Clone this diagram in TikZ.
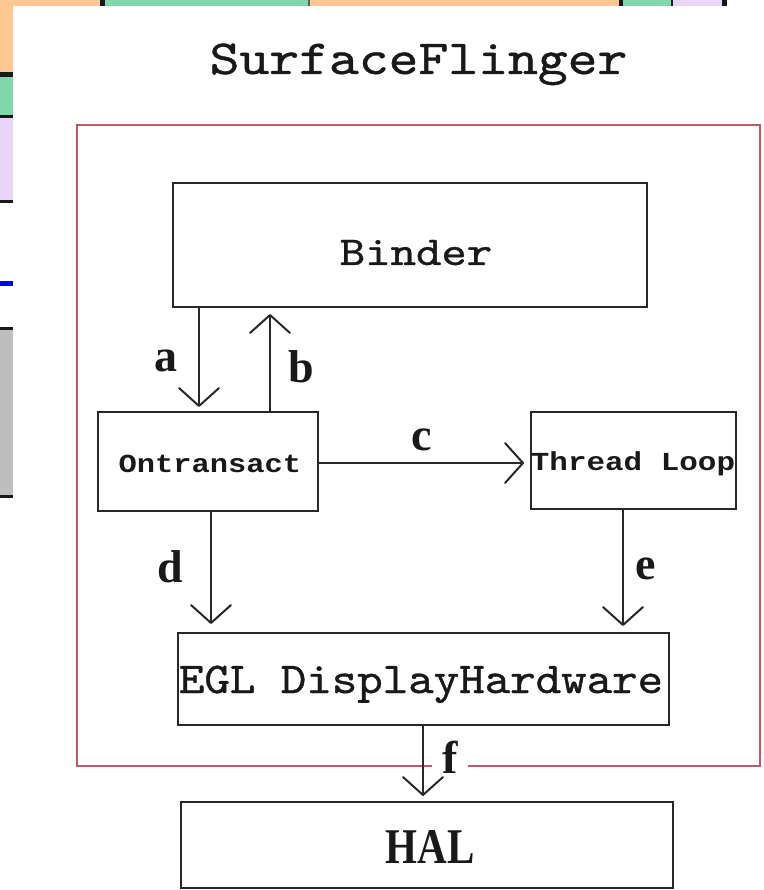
\documentclass[tikz,border=0pt]{standalone}
\usepackage{fontspec}
\usepackage{graphicx}
\usetikzlibrary{arrows.meta,calc}
\newfontfamily\serifb{Liberation Serif}
\newfontfamily\monob{Liberation Mono}
\newfontfamily\monoreg{lmmono10-regular.otf}[FakeBold=0.8]
\definecolor{cOrange}{RGB}{255,200,146}
\definecolor{cGreen}{RGB}{128,216,170}
\definecolor{cLav}{RGB}{232,212,246}
\definecolor{cGrey}{RGB}{190,190,190}
\definecolor{cLine}{RGB}{40,40,40}
\definecolor{cRed}{RGB}{188,90,104}
\definecolor{cDark}{RGB}{25,25,25}
\begin{document}
\begin{tikzpicture}[x=1pt,y=-1pt,
  box/.style={draw=cLine, line width=2pt, inner sep=0pt},
  txt/.style={anchor=base, inner sep=0pt, text=cDark},
  arr/.style={draw=cLine, line width=2pt, -{Straight Barb[length=18pt,width=40pt,round]}},
  lbl/.style={font=\serifb\bfseries\fontsize{46}{46}\selectfont, inner sep=0pt, text=cDark}
]
\useasboundingbox (0,0) rectangle (763,890);
\fill[white] (0,0) rectangle (763,890);
% background table cells
\fill[cOrange] (0,0) rectangle (100,6);
\fill[cDark] (100,0) rectangle (105,6);
\fill[cGreen] (105,0) rectangle (308,6);
\fill[cDark!70] (308,0) rectangle (310,6);
\fill[cOrange] (310,0) rectangle (619,6);
\fill[cDark] (619,0) rectangle (623,6);
\fill[cGreen] (623,0) rectangle (671,6);
\fill[cDark] (671,0) rectangle (673,6);
\fill[cLav] (673,0) rectangle (722,6);
\fill[cDark] (722,0) rectangle (727,6);
\fill[cOrange] (0,0) rectangle (13,72);
\fill[cDark] (0,72) rectangle (13,77);
\fill[cGreen] (0,77) rectangle (13,115);
\fill[cDark] (0,115) rectangle (13,118);
\fill[cLav] (0,118) rectangle (13,200);
\fill[cDark] (0,200) rectangle (13,203);
\fill[blue] (0,281) rectangle (13,286);
\fill[cDark] (0,327) rectangle (13,330);
\fill[cGrey] (0,330) rectangle (13,495);
\fill[cDark] (0,495) rectangle (13,498);

% title
\node[txt] (title) at (418.5,74) {\monoreg\fontsize{49}{49}\selectfont\scalebox{1.16}[1]{SurfaceFlinger}};

% red frame
\node[draw=cRed, line width=2pt, inner sep=0pt, minimum width=683pt, minimum height=641pt] (frame) at (418.5,445.5) {};

% boxes
\node[box, minimum width=474pt, minimum height=124pt] (binder) at (410,245) {};
\node[box, minimum width=220pt, minimum height=99pt] (ontr) at (208,461.5) {};
\node[box, minimum width=205pt, minimum height=97pt] (thread) at (633.5,460.5) {};
\node[box, minimum width=491pt, minimum height=92pt] (egl) at (423.5,679) {};
\node[box, minimum width=492pt, minimum height=86pt] (hal) at (427,845) {};

% box texts
\node[txt] (binderT) at (416,265) {\monoreg\fontsize{41}{41}\selectfont\scalebox{1.18}[1]{Binder}};
\node[txt] (ontrT) at (210,472) {\monob\bfseries\fontsize{26}{26}\selectfont\scalebox{1.17}[1]{Ontransact}};
\node[txt] (threadT) at (633,470) {\monob\bfseries\fontsize{26}{26}\selectfont\scalebox{1.19}[1]{Thread Loop}};
\node[txt] (eglT) at (421,693) {\monoreg\fontsize{44}{44}\selectfont\scalebox{1.103}[1]{EGL DisplayHardware}};
\node[txt] (halT) at (430,863) {\serifb\bfseries\fontsize{50}{50}\selectfont\scalebox{0.82}[1]{HAL}};

% connector positions
\coordinate (xa) at (199,0);
\coordinate (xb) at (270,0);
\coordinate (yc) at (0,463);
\coordinate (xd) at (211,0);
\coordinate (xe) at (623,0);
\coordinate (xf) at (423,0);

% connectors
\draw[arr, shorten >=4pt] (binder.south -| xa) -- (ontr.north -| xa);
\draw[arr, shorten >=6pt] (ontr.north -| xb) -- (binder.south -| xb);
\draw[arr, shorten >=6pt] (ontr.east |- yc) -- (thread.west |- yc);
\draw[arr, shorten >=8pt] (ontr.south -| xd) -- (egl.north -| xd);
\draw[arr, shorten >=6pt] (thread.south -| xe) -- (egl.north -| xe);
\draw[arr, shorten >=5pt] (egl.south -| xf) -- (hal.north -| xf);

% labels
\node[lbl] (la) at (166,361) {a};
\node[lbl] (lb) at (301,367) {b};
\node[lbl] (lc) at (422,440) {c};
\node[lbl] (ld) at (170,567) {d};
\node[lbl] (le) at (646,569) {e};
\node[lbl, fill=white, inner xsep=10pt] (lf) at (450,757) {f};
\end{tikzpicture}
\end{document}
